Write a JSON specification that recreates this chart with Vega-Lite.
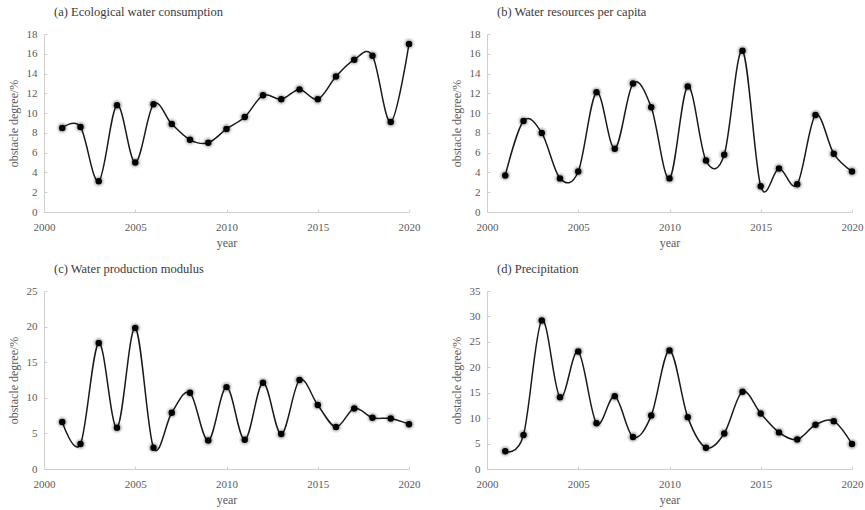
{
  "$schema": "https://vega.github.io/schema/vega-lite/v6.json",
  "background": "white",
  "padding": {"left": 7, "top": 5, "right": 5, "bottom": 5},
  "columns": 2,
  "spacing": {"column": 30, "row": 14},
  "datasets": {
    "a": [
      {"year": 2001, "value": 8.5}, {"year": 2002, "value": 8.6}, {"year": 2003, "value": 3.1}, {"year": 2004, "value": 10.8},
      {"year": 2005, "value": 5.0}, {"year": 2006, "value": 10.9}, {"year": 2007, "value": 8.9}, {"year": 2008, "value": 7.3},
      {"year": 2009, "value": 7.0}, {"year": 2010, "value": 8.4}, {"year": 2011, "value": 9.6}, {"year": 2012, "value": 11.8},
      {"year": 2013, "value": 11.4}, {"year": 2014, "value": 12.4}, {"year": 2015, "value": 11.4}, {"year": 2016, "value": 13.7},
      {"year": 2017, "value": 15.4}, {"year": 2018, "value": 15.8}, {"year": 2019, "value": 9.1}, {"year": 2020, "value": 17.0}
    ],
    "b": [
      {"year": 2001, "value": 3.7}, {"year": 2002, "value": 9.2}, {"year": 2003, "value": 8.0}, {"year": 2004, "value": 3.4},
      {"year": 2005, "value": 4.1}, {"year": 2006, "value": 12.1}, {"year": 2007, "value": 6.4}, {"year": 2008, "value": 13.0},
      {"year": 2009, "value": 10.6}, {"year": 2010, "value": 3.4}, {"year": 2011, "value": 12.7}, {"year": 2012, "value": 5.2},
      {"year": 2013, "value": 5.8}, {"year": 2014, "value": 16.3}, {"year": 2015, "value": 2.6}, {"year": 2016, "value": 4.4},
      {"year": 2017, "value": 2.8}, {"year": 2018, "value": 9.8}, {"year": 2019, "value": 5.9}, {"year": 2020, "value": 4.1}
    ],
    "c": [
      {"year": 2001, "value": 6.6}, {"year": 2002, "value": 3.5}, {"year": 2003, "value": 17.7}, {"year": 2004, "value": 5.8},
      {"year": 2005, "value": 19.8}, {"year": 2006, "value": 3.0}, {"year": 2007, "value": 7.9}, {"year": 2008, "value": 10.7},
      {"year": 2009, "value": 4.0}, {"year": 2010, "value": 11.5}, {"year": 2011, "value": 4.1}, {"year": 2012, "value": 12.1},
      {"year": 2013, "value": 4.9}, {"year": 2014, "value": 12.5}, {"year": 2015, "value": 9.0}, {"year": 2016, "value": 5.9},
      {"year": 2017, "value": 8.5}, {"year": 2018, "value": 7.2}, {"year": 2019, "value": 7.1}, {"year": 2020, "value": 6.3}
    ],
    "d": [
      {"year": 2001, "value": 3.5}, {"year": 2002, "value": 6.7}, {"year": 2003, "value": 29.2}, {"year": 2004, "value": 14.1},
      {"year": 2005, "value": 23.1}, {"year": 2006, "value": 9.0}, {"year": 2007, "value": 14.3}, {"year": 2008, "value": 6.3},
      {"year": 2009, "value": 10.5}, {"year": 2010, "value": 23.3}, {"year": 2011, "value": 10.2}, {"year": 2012, "value": 4.2},
      {"year": 2013, "value": 7.0}, {"year": 2014, "value": 15.2}, {"year": 2015, "value": 10.9}, {"year": 2016, "value": 7.2},
      {"year": 2017, "value": 5.8}, {"year": 2018, "value": 8.7}, {"year": 2019, "value": 9.4}, {"year": 2020, "value": 4.9}
    ]
  },
  "config": {
    "view": {"stroke": null},
    "font": "Liberation Serif",
    "title": {"font": "Liberation Serif", "fontSize": 12.5, "fontWeight": "normal", "color": "#3a3a3a", "anchor": "start", "frame": "group", "dx": 10, "offset": 10},
    "axis": {
      "grid": false,
      "domainColor": "#cfcfcf",
      "tickColor": "#cfcfcf",
      "tickSize": -3,
      "labelFont": "Liberation Serif",
      "labelFontSize": 11,
      "labelColor": "#5a5a5a",
      "labelFlush": false,
      "titleFont": "Liberation Serif",
      "titleFontSize": 12,
      "titleFontWeight": "normal",
      "titleColor": "#5a5a5a"
    },
    "axisX": {"labelPadding": 12, "titlePadding": 5},
    "axisY": {"labelPadding": 10, "titlePadding": 6}
  },
  "concat": [
    {
      "title": "(a) Ecological water consumption",
      "width": 365, "height": 178,
      "data": {"name": "a"},
      "encoding": {
        "x": {"field": "year", "type": "quantitative", "scale": {"domain": [2000, 2020], "nice": false, "zero": false}, "axis": {"values": [2000, 2005, 2010, 2015, 2020], "format": "d", "title": "year"}},
        "y": {"field": "value", "type": "quantitative", "scale": {"domain": [0, 18], "nice": false}, "axis": {"values": [0, 2, 4, 6, 8, 10, 12, 14, 16, 18], "title": "obstacle degree/%"}}
      },
      "layer": [
        {"mark": {"type": "line", "interpolate": "cardinal", "color": "#1a1a1a", "strokeWidth": 1.5}},
        {"mark": {"type": "point", "filled": true, "color": "#000000", "opacity": 0.08, "size": 150}},
        {"mark": {"type": "point", "filled": true, "color": "#000000", "opacity": 0.15, "size": 85}},
        {"mark": {"type": "point", "filled": true, "color": "#000000", "opacity": 1, "size": 42}}
      ]
    },
    {
      "title": "(b) Water resources per capita",
      "width": 365, "height": 178,
      "data": {"name": "b"},
      "encoding": {
        "x": {"field": "year", "type": "quantitative", "scale": {"domain": [2000, 2020], "nice": false, "zero": false}, "axis": {"values": [2000, 2005, 2010, 2015, 2020], "format": "d", "title": "year"}},
        "y": {"field": "value", "type": "quantitative", "scale": {"domain": [0, 18], "nice": false}, "axis": {"values": [0, 2, 4, 6, 8, 10, 12, 14, 16, 18], "title": "obstacle degree/%"}}
      },
      "layer": [
        {"mark": {"type": "line", "interpolate": "cardinal", "color": "#1a1a1a", "strokeWidth": 1.5}},
        {"mark": {"type": "point", "filled": true, "color": "#000000", "opacity": 0.08, "size": 150}},
        {"mark": {"type": "point", "filled": true, "color": "#000000", "opacity": 0.15, "size": 85}},
        {"mark": {"type": "point", "filled": true, "color": "#000000", "opacity": 1, "size": 42}}
      ]
    },
    {
      "title": "(c) Water production modulus",
      "width": 365, "height": 178,
      "data": {"name": "c"},
      "encoding": {
        "x": {"field": "year", "type": "quantitative", "scale": {"domain": [2000, 2020], "nice": false, "zero": false}, "axis": {"values": [2000, 2005, 2010, 2015, 2020], "format": "d", "title": "year"}},
        "y": {"field": "value", "type": "quantitative", "scale": {"domain": [0, 25], "nice": false}, "axis": {"values": [0, 5, 10, 15, 20, 25], "title": "obstacle degree/%"}}
      },
      "layer": [
        {"mark": {"type": "line", "interpolate": "cardinal", "color": "#1a1a1a", "strokeWidth": 1.5}},
        {"mark": {"type": "point", "filled": true, "color": "#000000", "opacity": 0.08, "size": 150}},
        {"mark": {"type": "point", "filled": true, "color": "#000000", "opacity": 0.15, "size": 85}},
        {"mark": {"type": "point", "filled": true, "color": "#000000", "opacity": 1, "size": 42}}
      ]
    },
    {
      "title": "(d) Precipitation",
      "width": 365, "height": 178,
      "data": {"name": "d"},
      "encoding": {
        "x": {"field": "year", "type": "quantitative", "scale": {"domain": [2000, 2020], "nice": false, "zero": false}, "axis": {"values": [2000, 2005, 2010, 2015, 2020], "format": "d", "title": "year"}},
        "y": {"field": "value", "type": "quantitative", "scale": {"domain": [0, 35], "nice": false}, "axis": {"values": [0, 5, 10, 15, 20, 25, 30, 35], "title": "obstacle degree/%"}}
      },
      "layer": [
        {"mark": {"type": "line", "interpolate": "cardinal", "color": "#1a1a1a", "strokeWidth": 1.5}},
        {"mark": {"type": "point", "filled": true, "color": "#000000", "opacity": 0.08, "size": 150}},
        {"mark": {"type": "point", "filled": true, "color": "#000000", "opacity": 0.15, "size": 85}},
        {"mark": {"type": "point", "filled": true, "color": "#000000", "opacity": 1, "size": 42}}
      ]
    }
  ]
}
